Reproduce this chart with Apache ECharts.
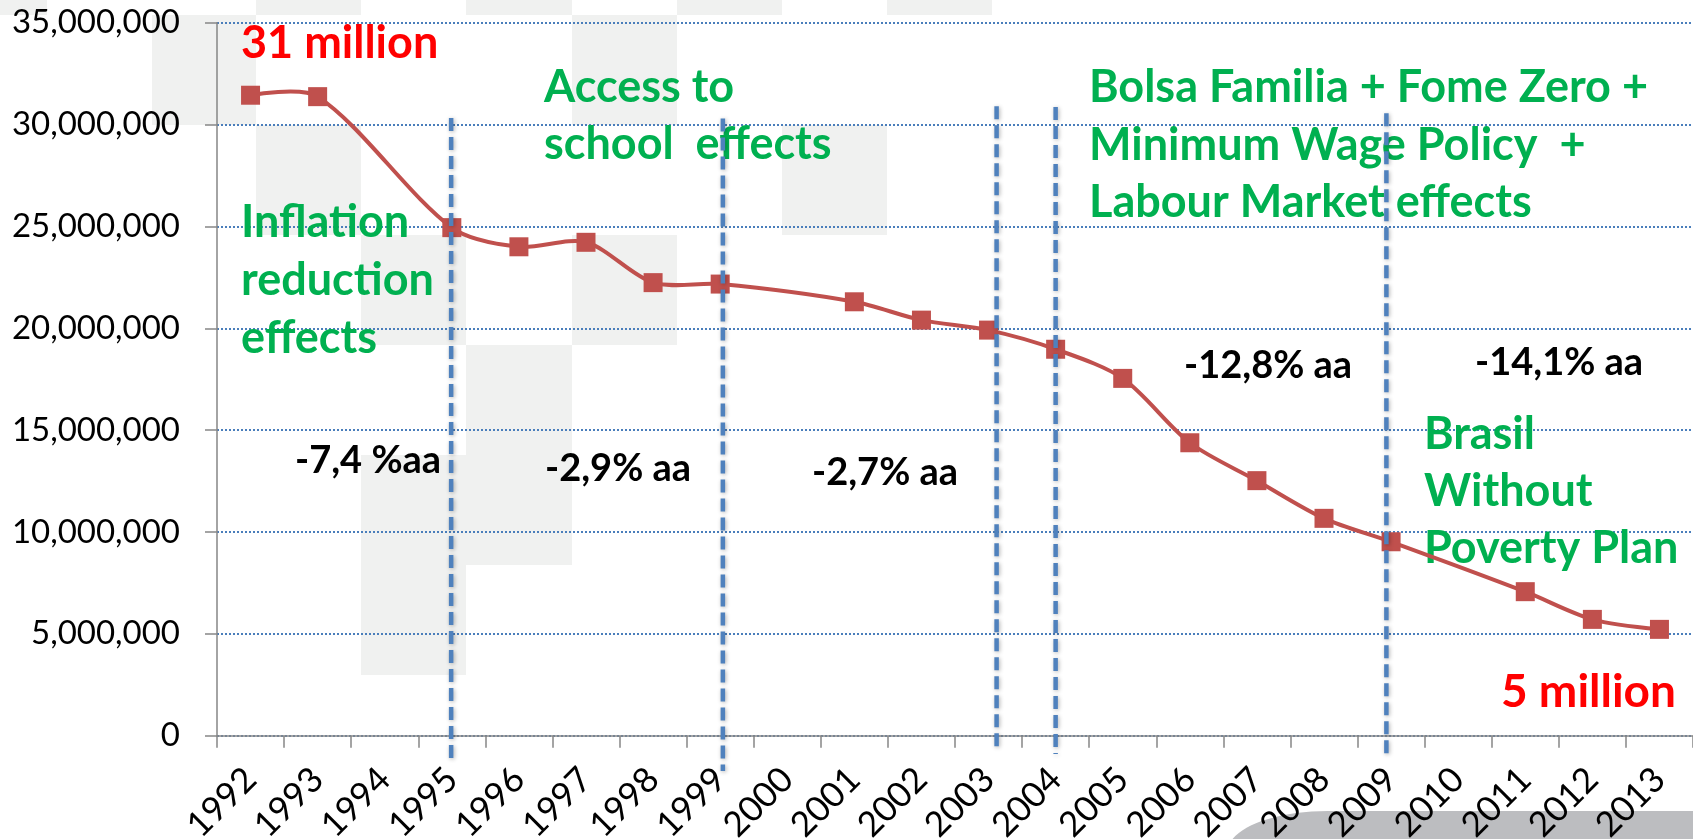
<!DOCTYPE html>
<html>
<head>
<meta charset="utf-8">
<title>Extreme poverty in Brazil, 1992-2013</title>
<script src="https://cdn.jsdelivr.net/npm/echarts@6/dist/echarts.min.js"></script>
<style>
    html, body { margin: 0; padding: 0; background: #ffffff; }
    #chart { width: 1693px; height: 839px; }
</style>
</head>
<body>
<div id="chart"></div>
<script>
// survey years (no survey in 1994, 2000, 2010)
const years = ['1992', '1993', '1994', '1995', '1996', '1997', '1998', '1999', '2000', '2001', '2002',
    '2003', '2004', '2005', '2006', '2007', '2008', '2009', '2010', '2011', '2012', '2013'];

// people in extreme poverty
const extremePoor = [31440000, 31370000, null, 24940000, 24000000, 24220000, 22240000, 22170000, null,
    21300000, 20400000, 19910000, 18970000, 17540000, 14380000, 12520000, 10670000, 9520000, null,
    7070000, 5710000, 5220000];

// policy break lines: position in category units, top and bottom in axis values
const breakAt = [2.99, 7.04, 11.12, 12.0, 16.93];
const breakTop = [30320000, 30300000, 30900000, 30860000, 30560000];
const breakBottom = [-1290000, -1730000, -800000, -900000, -990000];

const FONT = 'Lato';
const GREEN = '#00B050';
const LINE_RED = '#C0504D';
const SMOOTH = 0.3;

// slide background squares (decoration)
const bgSquares = [
    [0, 0, 47, 15], [152, 15, 104, 110], [256, 0, 105, 15], [256, 125, 105, 110],
    [361, 235, 105, 110], [361, 455, 105, 220], [466, 0, 106, 15], [466, 345, 106, 220],
    [572, 15, 105, 110], [572, 235, 105, 110], [677, 0, 105, 15], [782, 125, 105, 110],
    [887, 0, 105, 15]
];

const notes = [
    { text: '31 million', x: 241, y: 43, size: 45, color: '#FF0000', va: 'middle' },
    { text: 'Inflation\nreduction\neffects', x: 241, y: 193, size: 45, color: GREEN, lh: 58 },
    { text: 'Access to\nschool  effects', x: 544, y: 59, size: 45, color: GREEN, lh: 57 },
    { text: 'Bolsa Familia + Fome Zero +\nMinimum Wage Policy  +\nLabour Market effects', x: 1089, y: 59, size: 45, color: GREEN, lh: 57.5 },
    { text: 'Brasil\nWithout\nPoverty Plan', x: 1424, y: 406, size: 45, color: GREEN, lh: 57 },
    { text: '5 million', x: 1501, y: 692, size: 46, color: '#FF0000', va: 'middle' },
    { text: '-7,4 %aa', x: 295, y: 461, size: 38, color: '#000000', va: 'middle' },
    { text: '-2,9% aa', x: 545, y: 469, size: 38, color: '#000000', va: 'middle' },
    { text: '-2,7% aa', x: 812, y: 473, size: 38, color: '#000000', va: 'middle' },
    { text: '-12,8% aa', x: 1184, y: 366, size: 38, color: '#000000', va: 'middle' },
    { text: '-14,1% aa', x: 1475, y: 363, size: 38, color: '#000000', va: 'middle' }
];

// survey points as [category index, value]; missing years are simply skipped
const surveyPoints = [];
years.forEach((y, i) => {
    if (extremePoor[i] !== null) surveyPoints.push([i, extremePoor[i]]);
});

const chart = echarts.init(document.getElementById('chart'));

const graphics = bgSquares.map(([x, y, w, h]) => ({
    type: 'rect', z: -10, silent: true,
    shape: { x, y, width: w, height: h },
    style: { fill: '#F0F1F0' }
}));
graphics.push({
    type: 'ellipse', z: -10, silent: true,
    shape: { cx: 1328, cy: 851, rx: 100, ry: 40 },
    style: { fill: '#BCBDC0' }
});
graphics.push({
    type: 'rect', z: -10, silent: true,
    shape: { x: 1328, y: 811, width: 400, height: 40 },
    style: { fill: '#BCBDC0' }
});
notes.forEach(n => {
    graphics.push({
        type: 'text', z: 1, silent: true,
        style: {
            text: n.text, x: n.x, y: n.y,
            fill: n.color,
            font: `bold ${n.size}px ${FONT}`,
            lineHeight: n.lh || n.size,
            textAlign: 'left',
            textVerticalAlign: n.va || 'top'
        }
    });
});

// Excel-like smoothed segment from point k to k+1 (no overshoot clamping)
function renderSmoothSegment(params, api) {
    const k = params.dataIndexInside;
    const n = params.dataInsideLength;
    if (k >= n - 1) return null;
    const pt = i => {
        const j = Math.max(0, Math.min(n - 1, i));
        return api.coord([api.value(0, j), api.value(1, j)]);
    };
    const dist = (a, b) => Math.hypot(b[0] - a[0], b[1] - a[1]);
    const p0 = pt(k - 1), p1 = pt(k), p2 = pt(k + 1), p3 = pt(k + 2);

    let c1 = p1.slice();
    if (k > 0) {
        const r = dist(p1, p2) / (dist(p0, p1) + dist(p1, p2));
        c1 = [p1[0] + (p2[0] - p0[0]) * SMOOTH * r, p1[1] + (p2[1] - p0[1]) * SMOOTH * r];
    }
    let c2 = p2.slice();
    if (k + 1 < n - 1) {
        const r = dist(p1, p2) / (dist(p1, p2) + dist(p2, p3));
        c2 = [p2[0] - (p3[0] - p1[0]) * SMOOTH * r, p2[1] - (p3[1] - p1[1]) * SMOOTH * r];
    }
    return {
        type: 'bezierCurve',
        shape: { x1: p1[0], y1: p1[1], cpx1: c1[0], cpy1: c1[1], cpx2: c2[0], cpy2: c2[1], x2: p2[0], y2: p2[1] },
        style: { stroke: LINE_RED, lineWidth: 4, fill: null, lineCap: 'round' }
    };
}

const option = {
    backgroundColor: '#ffffff',
    animation: false,
    grid: { left: 217, right: 0, top: 22.7, bottom: 103.3, outerBoundsMode: 'none' },
    xAxis: [
        {
            type: 'category',
            data: years,
            boundaryGap: true,
            axisLine: { lineStyle: { color: '#868686', width: 1.5 } },
            axisTick: { show: true, length: 12, lineStyle: { color: '#868686', width: 1.5 } },
            axisLabel: {
                rotate: 45, margin: 38, interval: 0,
                fontFamily: FONT, fontSize: 35, color: '#000000'
            },
            splitLine: { show: false }
        },
        { type: 'value', min: -0.5, max: 21.5, show: false }
    ],
    yAxis: {
        type: 'value',
        min: 0, max: 35000000, interval: 5000000,
        axisLine: { show: true, onZero: false, lineStyle: { color: '#868686', width: 1.5 } },
        axisTick: { show: true, length: 12, lineStyle: { color: '#868686', width: 1.5 } },
        axisLabel: {
            margin: 37, fontFamily: FONT, fontSize: 33, color: '#000000',
            formatter: v => v.toLocaleString('en-US')
        },
        splitLine: { lineStyle: { color: '#4A7EBB', width: 2, type: 'dotted' } }
    },
    graphic: graphics,
    series: [
        {
            name: 'Extreme poverty curve',
            type: 'custom',
            xAxisIndex: 1,
            data: surveyPoints,
            encode: { x: 0, y: 1 },
            z: 2,
            renderItem: renderSmoothSegment
        },
        {
            name: 'Extreme poverty',
            type: 'line',
            xAxisIndex: 1,
            data: surveyPoints,
            symbol: 'rect',
            symbolSize: 19,
            lineStyle: { width: 0, opacity: 0 },
            itemStyle: { color: LINE_RED },
            z: 2.5
        },
        {
            name: 'Policy breaks',
            type: 'custom',
            xAxisIndex: 1,
            data: breakAt.map((x, i) => [x, breakTop[i], breakBottom[i]]),
            encode: { x: 0, y: [1, 2] },
            z: 3,
            renderItem: (params, api) => {
                const top = api.coord([api.value(0), api.value(1)]);
                const bottom = api.coord([api.value(0), api.value(2)]);
                return {
                    type: 'line',
                    shape: { x1: top[0], y1: top[1], x2: bottom[0], y2: bottom[1] },
                    style: {
                        stroke: '#4F81BD', lineWidth: 4.5, lineDash: [13, 6],
                        shadowBlur: 4, shadowColor: 'rgba(0,0,0,0.3)', shadowOffsetX: 1, shadowOffsetY: 1
                    }
                };
            }
        }
    ]
};

chart.setOption(option);
</script>
</body>
</html>
